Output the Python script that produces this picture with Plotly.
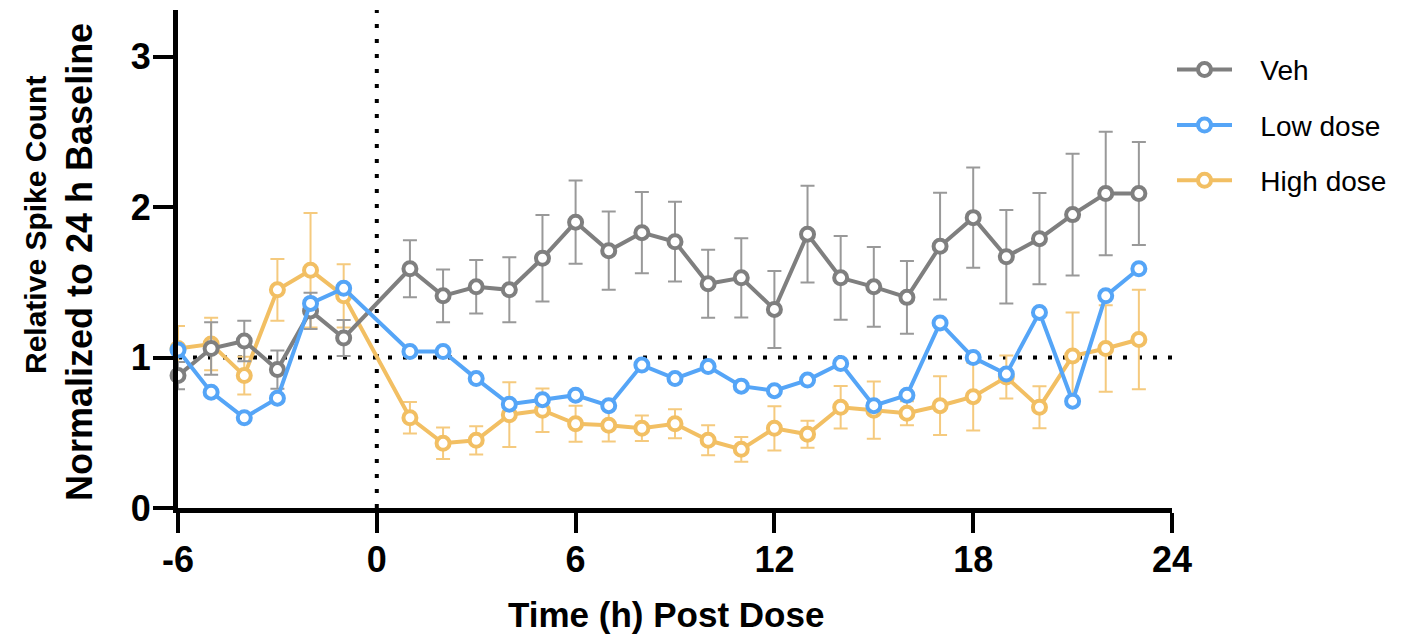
import plotly.graph_objects as go

# Hours relative to dosing (no sample at t = 0)
hours = [-6, -5, -4, -3, -2, -1, 1, 2, 3, 4, 5, 6, 7, 8, 9, 10, 11, 12,
         13, 14, 15, 16, 17, 18, 19, 20, 21, 22, 23]

# Mean relative spike count per group
veh_mean = [0.88, 1.06, 1.11, 0.92, 1.31, 1.13, 1.59, 1.41, 1.47, 1.45, 1.66,
            1.90, 1.71, 1.83, 1.77, 1.49, 1.53, 1.32, 1.82, 1.53, 1.47, 1.40,
            1.74, 1.93, 1.67, 1.79, 1.95, 2.09, 2.09]
veh_sem = [0.09, 0.175, 0.135, 0.127, 0.12, 0.12, 0.19, 0.175, 0.178, 0.216,
           0.288, 0.277, 0.26, 0.27, 0.265, 0.226, 0.263, 0.256, 0.322, 0.278,
           0.265, 0.242, 0.355, 0.333, 0.31, 0.303, 0.404, 0.41, 0.342]

low_mean = [1.05, 0.77, 0.60, 0.73, 1.36, 1.46, 1.04, 1.04, 0.86, 0.69, 0.72,
            0.75, 0.68, 0.95, 0.86, 0.94, 0.81, 0.78, 0.85, 0.96, 0.68, 0.75,
            1.23, 1.00, 0.89, 1.30, 0.71, 1.41, 1.59]

high_mean = [1.06, 1.09, 0.88, 1.45, 1.58, 1.41, 0.60, 0.43, 0.45, 0.62, 0.65,
             0.56, 0.55, 0.53, 0.56, 0.45, 0.39, 0.53, 0.49, 0.67, 0.65, 0.63,
             0.68, 0.74, 0.87, 0.67, 1.01, 1.06, 1.12]
high_sem = [0.15, 0.175, 0.125, 0.205, 0.38, 0.21, 0.105, 0.105, 0.094, 0.215,
            0.145, 0.12, 0.108, 0.084, 0.097, 0.1, 0.082, 0.147, 0.09, 0.141,
            0.19, 0.08, 0.195, 0.225, 0.143, 0.14, 0.29, 0.288, 0.33]

x_ticks = [-6, 0, 6, 12, 18, 24]
x_tick_labels = ["-6", "0", "6", "12", "18", "24"]
y_ticks = [0, 1, 2, 3]
y_tick_labels = ["0", "1", "2", "3"]

GRAY = "#7f7f7f"
BLUE = "#55a5f7"
ORANGE = "#f2bf63"
FONT = "Liberation Sans, Arial, sans-serif"
PAD = "\u00a0\u00a0\u00a0"  # spacing between legend symbol and label


def series(name, y, color, rank, sem=None, err_color=None):
    kw = {}
    if sem is not None:
        kw["error_y"] = dict(type="data", array=sem, visible=True,
                             color=err_color, thickness=2, width=7)
    return go.Scatter(
        x=hours, y=y, name=PAD + name, mode="lines+markers",
        line=dict(color=color, width=4),
        marker=dict(symbol="circle", size=13, color="white",
                    line=dict(color=color, width=4)),
        legendrank=rank, legendgroup=name, cliponaxis=False, **kw)


fig = go.Figure()
# drawing order: high dose beneath, low dose on top
fig.add_trace(series("High dose", high_mean, ORANGE, 3, high_sem, "#f5ca7e"))
fig.add_trace(series("Veh", veh_mean, GRAY, 1, veh_sem, "#999999"))
fig.add_trace(series("Low dose", low_mean, BLUE, 2))

# dotted reference lines at dose time and baseline
fig.add_shape(type="line", xref="x", yref="paper", x0=0, x1=0, y0=0, y1=1,
              line=dict(color="black", width=4, dash="4px,11px"), layer="below")
fig.add_shape(type="line", xref="x", yref="y", x0=-6, x1=24, y0=1, y1=1,
              line=dict(color="black", width=4, dash="4px,11px"), layer="below")

axis_common = dict(showline=True, linecolor="black", linewidth=5,
                   ticks="outside", ticklen=20, tickwidth=4, tickcolor="black",
                   showgrid=False, zeroline=False,
                   tickfont=dict(family=FONT, size=36, color="black",
                                 weight="bold"))

fig.update_xaxes(range=[-6, 24], tickvals=x_ticks, ticktext=x_tick_labels,
                 ticklabelstandoff=-4, **axis_common)
fig.update_yaxes(range=[0, 3.31], tickvals=y_ticks, ticktext=y_tick_labels,
                 ticklabelstandoff=-5, **axis_common)

fig.add_annotation(text="Time (h) Post Dose", xref="paper", yref="paper",
                   x=(666 - 178) / 994, y=-(614 - 508) / 498,
                   xanchor="center", yanchor="middle", showarrow=False,
                   font=dict(family=FONT, size=35, color="black", weight="bold"))
fig.add_annotation(text="Relative Spike Count", xref="paper", yref="paper",
                   x=-(178 - 35) / 994, y=1 - (225 - 10) / 498,
                   xanchor="center", yanchor="middle", textangle=-90,
                   showarrow=False,
                   font=dict(family=FONT, size=30, color="black", weight="bold"))
fig.add_annotation(text="Normalized to 24 h Baseline", xref="paper",
                   yref="paper", x=-(178 - 79) / 994, y=1 - (262 - 10) / 498,
                   xanchor="center", yanchor="middle", textangle=-90,
                   showarrow=False,
                   font=dict(family=FONT, size=36, color="black", weight="bold"))

fig.update_layout(
    width=1411, height=639,
    margin=dict(l=178, r=1411 - 1172, t=10, b=131),
    paper_bgcolor="white", plot_bgcolor="white",
    showlegend=True,
    legend=dict(x=1.0, xanchor="left", y=0.93, yanchor="top",
                font=dict(family=FONT, size=28, color="black"),
                tracegroupgap=16, itemwidth=55, bgcolor="rgba(0,0,0,0)"),
)

fig.write_html("out.html")
